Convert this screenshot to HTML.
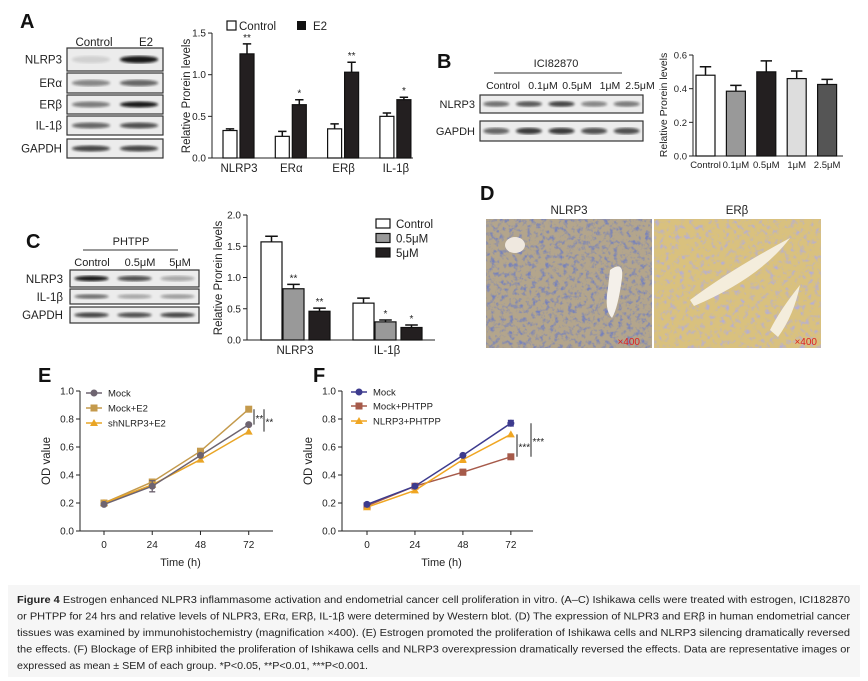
<!DOCTYPE html>
<html><head><meta charset="utf-8"><style>
html,body{margin:0;padding:0;background:#fff}
svg{display:block;font-family:"Liberation Sans",Arial,sans-serif}
</style></head><body>
<svg id="fig" xmlns="http://www.w3.org/2000/svg" width="868" height="681" viewBox="0 0 868 681">
<defs>
<filter id="blur1"><feGaussianBlur stdDeviation="1.4"/></filter>
<filter id="noiseA" x="0" y="0" width="100%" height="100%"><feTurbulence type="fractalNoise" baseFrequency="0.22" numOctaves="3" seed="3"/><feColorMatrix type="matrix" values="0 0 0 0 0.18  0 0 0 0 0.22  0 0 0 0 0.5  0 0 0 -3 1.55"/></filter>
<filter id="noiseB" x="0" y="0" width="100%" height="100%"><feTurbulence type="fractalNoise" baseFrequency="0.2" numOctaves="3" seed="8"/><feColorMatrix type="matrix" values="0 0 0 0 0.45  0 0 0 0 0.42  0 0 0 0 0.7  0 0 0 -3 1.45"/></filter>
</defs>
<rect width="868" height="681" fill="#fff"/>
<g id="root"></g>
</svg>
<script>
// ---------- data ----------
const aCats = ["NLRP3","ERα","ERβ","IL-1β"];
const aControl = [0.33,0.26,0.35,0.50];
const aControlErr = [0.02,0.06,0.06,0.04];
const aE2 = [1.25,0.64,1.03,0.70];
const aE2Err = [0.12,0.06,0.12,0.03];
const aStars = ["**","*","**","*"];
const aTicks = [0,0.5,1.0,1.5];

const bCats = ["Control","0.1μM","0.5μM","1μM","2.5μM"];
const bVals = [0.48,0.385,0.50,0.46,0.425];
const bErr = [0.05,0.035,0.065,0.045,0.03];
const bTicks = [0,0.2,0.4,0.6];

const cCats = ["NLRP3","IL-1β"];
const cSeries = ["Control","0.5μM","5μM"];
const cControl = [1.57,0.59];
const cControlErr = [0.09,0.08];
const c05 = [0.82,0.29];
const c05Err = [0.07,0.03];
const c5 = [0.46,0.20];
const c5Err = [0.05,0.04];
const cStars05 = ["**","*"];
const cStars5 = ["**","*"];
const cTicks = [0,0.5,1.0,1.5,2.0];

const timeCats = [0,24,48,72];
const eMock = [0.19,0.32,0.54,0.76];
const eMockErr = [0.01,0.04,0.01,0.01];
const eMockE2 = [0.20,0.35,0.57,0.87];
const eSh = [0.20,0.33,0.51,0.71];
const fMock = [0.19,0.32,0.54,0.77];
const fMockErr = [0.01,0.01,0.01,0.02];
const fMockP = [0.18,0.32,0.42,0.53];
const fMockPErr = [0.01,0.01,0.02,0.01];
const fNlrpP = [0.17,0.29,0.51,0.69];
const fNlrpPErr = [0.01,0.01,0.02,0.01];
const odTicks = [0,0.2,0.4,0.6,0.8,1.0];

const NS = "http://www.w3.org/2000/svg";
const root = document.getElementById("root");
function mk(tag, attrs, parent){
  const el = document.createElementNS(NS, tag);
  for (const k in attrs) el.setAttribute(k, attrs[k]);
  (parent||root).appendChild(el);
  return el;
}
function txt(s, x, y, size, anchor, parent, extra){
  const a = Object.assign({x:x, y:y, "font-size":size, "text-anchor":anchor||"start", fill:"#222"}, extra||{});
  const t = mk("text", a, parent);
  t.textContent = s;
  return t;
}
function fmt(v){ return v.toFixed(1); }

// ---------- panel letters ----------
[["A",20,28],["B",437,68],["C",26,248],["D",480,200],["E",38,382],["F",313,382]].forEach(p=>{
  const t = txt(p[0], p[1], p[2], 20, "start", root, {"font-weight":"bold", fill:"#111"});
  
  
});

// ---------- blots ----------
function blot(x, y, w, h, lanes, intens, name){
  const g = mk("g", {});
  
  
  mk("rect", {x:x, y:y, width:w, height:h, fill:"#ececec", stroke:"#333", "stroke-width":1.2}, g);
  const lw = w/lanes;
  intens.forEach((v,i)=>{
    mk("ellipse", {cx:x+lw*(i+0.5), cy:y+h/2, rx:lw*0.4, ry:Math.max(1.8,h*0.16), fill:"#111", opacity:v, filter:"url(#blur1)"}, g);
  });
}
function label(s, x, y, size, anchor, name){
  const t = txt(s, x, y, size, anchor);
  
  
  return t;
}
// Panel A blots
label("Control", 94, 46, 11.5, "middle", "blot-a-lane-control");
label("E2", 146, 46, 11.5, "middle", "blot-a-lane-e2");
[["NLRP3",48,23,[0.12,0.95]],["ERα",73,20,[0.45,0.6]],["ERβ",95,19,[0.5,0.95]],["IL-1β",116,19,[0.6,0.7]],["GAPDH",139,19,[0.75,0.75]]].forEach(r=>{
  label(r[0], 62, r[1]+r[2]/2+4, 11.5, "end", "blot-a-label-" + r[0].toLowerCase());
  blot(67, r[1], 96, r[2], 2, r[3], "blot-a-" + r[0].toLowerCase());
});
// Panel B blots
label("ICI82870", 556, 67, 11, "middle", "blot-b-treatment-label");
const lb = mk("line", {x1:494, y1:73, x2:622, y2:73, stroke:"#333", "stroke-width":1});


["Control","0.1μM","0.5μM","1μM","2.5μM"].forEach((s,i)=>{
  label(s, [503,543,577,610,640][i], 89, 10.5, "middle", "blot-b-lane-" + i);
});
label("NLRP3", 475, 108, 11, "end", "blot-b-label-nlrp3");
blot(480, 95, 163, 18, 5, [0.55,0.65,0.75,0.45,0.5], "blot-b-nlrp3");
label("GAPDH", 475, 135, 11, "end", "blot-b-label-gapdh");
blot(480, 121, 163, 20, 5, [0.6,0.8,0.8,0.7,0.7], "blot-b-gapdh");
// Panel C blots
label("PHTPP", 131, 245, 11, "middle", "blot-c-treatment-label");
const lc = mk("line", {x1:83, y1:250, x2:178, y2:250, stroke:"#333", "stroke-width":1});


["Control","0.5μM","5μM"].forEach((s,i)=>{
  label(s, [92,140,180][i], 266, 11, "middle", "blot-c-lane-" + i);
});
label("NLRP3", 63, 283, 11.5, "end", "blot-c-label-nlrp3");
blot(70, 270, 129, 17, 3, [0.95,0.7,0.3], "blot-c-nlrp3");
label("IL-1β", 63, 301, 11.5, "end", "blot-c-label-il1b");
blot(70, 289, 129, 15, 3, [0.55,0.3,0.35], "blot-c-il1b");
label("GAPDH", 63, 319, 11.5, "end", "blot-c-label-gapdh");
blot(70, 307, 129, 16, 3, [0.75,0.7,0.75], "blot-c-gapdh");

// ---------- histology ----------
function histo(x, y, w, h, base, filt, name){
  const g = mk("g", {});
  
  
  mk("rect", {x:x, y:y, width:w, height:h, fill:base}, g);
  mk("rect", {x:x, y:y, width:w, height:h, filter:filt}, g);
  return g;
}
label("NLRP3", 569, 214, 11.5, "middle", "ihc-nlrp3-title");
label("ERβ", 737, 214, 11.5, "middle", "ihc-erb-title");
const h1 = histo(486, 219, 166, 129, "#b3a58c", "url(#noiseA)", "ihc-nlrp3-image");
mk("path", {d:"M610 270 q14 -10 12 8 q-4 30 -10 40 q-8 -8 -4 -30 z", fill:"#f4f0ea"}, h1);
mk("ellipse", {cx:515, cy:245, rx:10, ry:8, fill:"#efe8df"}, h1);
const h2 = histo(654, 219, 167, 129, "#d9c17e", "url(#noiseB)", "ihc-erb-image");
mk("path", {d:"M690 300 q40 -30 100 -62 q-30 40 -96 68 z", fill:"#f4eddc"}, h2);
mk("path", {d:"M770 330 q10 -20 30 -45 q-6 30 -22 52 z", fill:"#f4eddc"}, h2);
label("×400", 640, 345, 10, "end", "ihc-nlrp3-magnification").setAttribute("fill","#d22");
label("×400", 817, 345, 10, "end", "ihc-erb-magnification").setAttribute("fill","#d22");

// ---------- generic bar helpers ----------
function axisY(x, yOf, ticks, top, bottom, prefix, fs){
  const ax = mk("line", {x1:x, y1:top, x2:x, y2:bottom, stroke:"#222", "stroke-width":1});
  
  
  ticks.forEach(v=>{
    const tk = mk("line", {x1:x-4, y1:yOf(v), x2:x, y2:yOf(v), stroke:"#222"});
    
    
    const t = txt(fmt(v), x-6, yOf(v)+3.5, fs||10, "end");
    
    
  });
}
function axisX(x1, x2, y, prefix){
  const ax = mk("line", {x1:x1, y1:y, x2:x2, y2:y, stroke:"#222", "stroke-width":1});
  
  
}
function yTitle(s, x, y, prefix, fs){
  const t = txt(s, x, y, fs||11.5, "middle", root, {transform:"rotate(-90 "+x+" "+y+")"});
  
  
}
function bar(x, w, v, e, yOf, fill, name){
  const r = mk("rect", {x:x, y:yOf(v), width:w, height:yOf(0)-yOf(v), fill:fill, stroke:"#111", "stroke-width":1.2});
  
  
  const cx = x + w/2;
  const eb = mk("path", {d:"M"+cx+" "+yOf(v)+" V"+yOf(v+e)+" M"+(cx-w*0.3)+" "+yOf(v+e)+" H"+(cx+w*0.3), stroke:"#111", "stroke-width":1.5, fill:"none"});
  
  
}

// ---------- Chart A ----------
const yA = v => 158 - v*83.3;
axisY(212, yA, aTicks, 33, 158, "chart-a");
axisX(212, 413, 158, "chart-a");
yTitle("Relative Prorein levels", 190, 96, "chart-a");
aCats.forEach((c,i)=>{
  const cx = 239 + i*52.3;
  bar(cx-16, 14, aControl[i], aControlErr[i], yA, "#fff", "bar-a-control-" + i);
  bar(cx+1, 14, aE2[i], aE2Err[i], yA, "#231f20", "bar-a-e2-" + i);
  const s = txt(aStars[i], cx+8, yA(aE2[i]+aE2Err[i])-3, 10, "middle");
  
  
  const t = txt(c, cx, 172, 11.5, "middle");
  
  
});
const la1 = mk("rect", {x:227, y:21, width:9, height:9, fill:"#fff", stroke:"#111", "stroke-width":1.2});


label("Control", 239, 30, 11.5, "start", "legend-a-control");
const la2 = mk("rect", {x:297, y:21, width:9, height:9, fill:"#111"});


label("E2", 313, 30, 11.5, "start", "legend-a-e2");

// ---------- Chart B ----------
const yB = v => 156 - v*168.3;
axisY(693, yB, bTicks, 55, 156, "chart-b", 9.5);
axisX(693, 843, 156, "chart-b");
yTitle("Relative Prorein levels", 667, 105, "chart-b", 10.5);
const bFills = ["#fff","#999","#231f20","#ddd","#555"];
bCats.forEach((c,i)=>{
  const x = 696 + i*30.4;
  bar(x, 19, bVals[i], bErr[i], yB, bFills[i], "bar-b-" + i);
  const t = txt(c, x+9.5, 168, 9.5, "middle");
  
  
});

// ---------- Chart C ----------
const yC = v => 340 - v*62.5;
axisY(247, yC, cTicks, 215, 340, "chart-c");
axisX(247, 435, 340, "chart-c");
yTitle("Relative Prorein levels", 222, 278, "chart-c");
const cFills = ["#fff","#999","#231f20"];
const cOff = [0, 22, 48];
cCats.forEach((c,i)=>{
  const gx = 261 + i*92;
  bar(gx+cOff[0], 21, cControl[i], cControlErr[i], yC, cFills[0], "bar-c-control-" + i);
  bar(gx+cOff[1], 21, c05[i], c05Err[i], yC, cFills[1], "bar-c-05um-" + i);
  bar(gx+cOff[2], 21, c5[i], c5Err[i], yC, cFills[2], "bar-c-5um-" + i);
  const s1 = txt(cStars05[i], gx+cOff[1]+10.5, yC(c05[i]+c05Err[i])-3, 10, "middle");
  
  
  const s2 = txt(cStars5[i], gx+cOff[2]+10.5, yC(c5[i]+c5Err[i])-3, 10, "middle");
  
  
  const t = txt(c, gx+34, 354, 11.5, "middle");
  
  
});
cSeries.forEach((s,i)=>{
  const r = mk("rect", {x:376, y:219+i*14.5, width:14, height:9, fill:cFills[i], stroke:"#111", "stroke-width":1.2});
  
  
  label(s, 396, 228+i*14.5, 11.5, "start", "legend-c-entry-" + i);
});

// ---------- line charts ----------
function marker(kind, x, y, col, g){
  let m;
  if (kind==="circle") m = mk("circle", {cx:x, cy:y, r:3.5, fill:col}, g);
  else if (kind==="square") m = mk("rect", {x:x-3.5, y:y-3.5, width:7, height:7, fill:col}, g);
  else m = mk("path", {d:"M"+x+" "+(y-4)+" L"+(x+4)+" "+(y+3)+" L"+(x-4)+" "+(y+3)+" Z", fill:col}, g);
  return m;
}
function series(vals, errs, xOf, yOf, col, kind, name){
  const g = mk("g", {});
  
  
  const pts = vals.map((v,i)=>xOf(timeCats[i])+","+yOf(v)).join(" ");
  mk("polyline", {points:pts, fill:"none", stroke:col, "stroke-width":1.5}, g);
  vals.forEach((v,i)=>{
    const x = xOf(timeCats[i]);
    if (errs && errs[i] > 0.015) {
      mk("path", {d:"M"+x+" "+yOf(v-errs[i])+" V"+yOf(v+errs[i])+" M"+(x-3)+" "+yOf(v-errs[i])+" H"+(x+3)+" M"+(x-3)+" "+yOf(v+errs[i])+" H"+(x+3), stroke:col, "stroke-width":1.3, fill:"none"}, g);
    }
    const m = marker(kind, x, yOf(v), col, g);
    
    
  });
}
function lineChart(ax, xEnd, xOf, prefix){
  const yOf = v => 531 - v*140;
  axisY(ax, yOf, odTicks, 391, 531, prefix);
  axisX(ax, xEnd, 531, prefix);
  timeCats.forEach(t=>{
    const tk = mk("line", {x1:xOf(t), y1:531, x2:xOf(t), y2:535, stroke:"#222"});
    
    
    const l = txt(String(t), xOf(t), 548, 10, "middle");
    
    
  });
  const xt = txt("Time (h)", (ax+xEnd)/2+4, 566, 11, "middle");
  
  
  yTitle("OD value", ax-30, 461, prefix, 11.5);
  return yOf;
}
function legendLine(x, y, col, kind, s, name){
  const l = mk("line", {x1:x, y1:y, x2:x+16, y2:y, stroke:col, "stroke-width":1.5});
  
  
  marker(kind, x+8, y, col);
  label(s, x+22, y+3.5, 9.5, "start", name);
}
function sig(x, yA1, yA2, s, yOf, name){
  const l = mk("line", {x1:x, y1:yOf(yA1), x2:x, y2:yOf(yA2), stroke:"#222", "stroke-width":1});
  
  
  const t = txt(s, x+1.5, (yOf(yA1)+yOf(yA2))/2+5, 10, "start");
  
  
}
// Chart E
const xE = t => 104 + t*2.01;
const yE = lineChart(80, 273, xE, "chart-e");
const cMock = "#6e6470", cE2 = "#c49a4c", cSh = "#e9a526";
series(eMockE2, null, xE, yE, cE2, "square", "series-e-mock-e2");
series(eSh, null, xE, yE, cSh, "triangle", "series-e-shnlrp3-e2");
series(eMock, eMockErr, xE, yE, cMock, "circle", "series-e-mock");
legendLine(86, 393, cMock, "circle", "Mock", "legend-e-mock");
legendLine(86, 408, cE2, "square", "Mock+E2", "legend-e-mock-e2");
legendLine(86, 423, cSh, "triangle", "shNLRP3+E2", "legend-e-shnlrp3-e2");
sig(254, eMockE2[3], eMock[3], "**", yE, "chart-e-sig-1");
sig(264, eMockE2[3], eSh[3], "**", yE, "chart-e-sig-2");
// Chart F
const xF = t => 367 + t*1.998;
const yF = lineChart(342, 533, xF, "chart-f");
const cFM = "#3d3b8e", cFP = "#a65a4a", cFN = "#f0a622";
series(fMockP, fMockPErr, xF, yF, cFP, "square", "series-f-mock-phtpp");
series(fNlrpP, fNlrpPErr, xF, yF, cFN, "triangle", "series-f-nlrp3-phtpp");
series(fMock, fMockErr, xF, yF, cFM, "circle", "series-f-mock");
legendLine(351, 392, cFM, "circle", "Mock", "legend-f-mock");
legendLine(351, 406, cFP, "square", "Mock+PHTPP", "legend-f-mock-phtpp");
legendLine(351, 421, cFN, "triangle", "NLRP3+PHTPP", "legend-f-nlrp3-phtpp");
sig(517, fNlrpP[3], fMockP[3], "***", yF, "chart-f-sig-1");
sig(531, fMock[3], fMockP[3], "***", yF, "chart-f-sig-2");

// ---------- caption ----------
const capBg = mk("rect", {x:8, y:585, width:852, height:92, fill:"#f6f6f6"});


const capLines = [
 ["Figure 4", " Estrogen enhanced NLPR3 inflammasome activation and endometrial cancer cell proliferation in vitro. (A–C) Ishikawa cells were treated with estrogen, ICI182870", 850],
 ["", "or PHTPP for 24 hrs and relative levels of NLPR3, ERα, ERβ, IL-1β were determined by Western blot. (D) The expression of NLPR3 and ERβ in human endometrial cancer", 850],
 ["", "tissues was examined by immunohistochemistry (magnification ×400). (E) Estrogen promoted the proliferation of Ishikawa cells and NLRP3 silencing dramatically reversed", 850],
 ["", "the effects. (F) Blockage of ERβ inhibited the proliferation of Ishikawa cells and NLRP3 overexpression dramatically reversed the effects. Data are representative images or", 850],
 ["", "expressed as mean ± SEM of each group. *P<0.05, **P<0.01, ***P<0.001.", 368]
];
capLines.forEach((l,i)=>{
  const t = mk("text", {x:17, y:603+i*16.5, "font-size":10.5, fill:"#222", textLength:l[2]-17, lengthAdjust:"spacingAndGlyphs"});
  
  
  if (l[0]) { const b = mk("tspan", {"font-weight":"bold"}, t); b.textContent = l[0]; }
  const r = mk("tspan", {}, t); r.textContent = l[1];
});
</script>
</body></html>
